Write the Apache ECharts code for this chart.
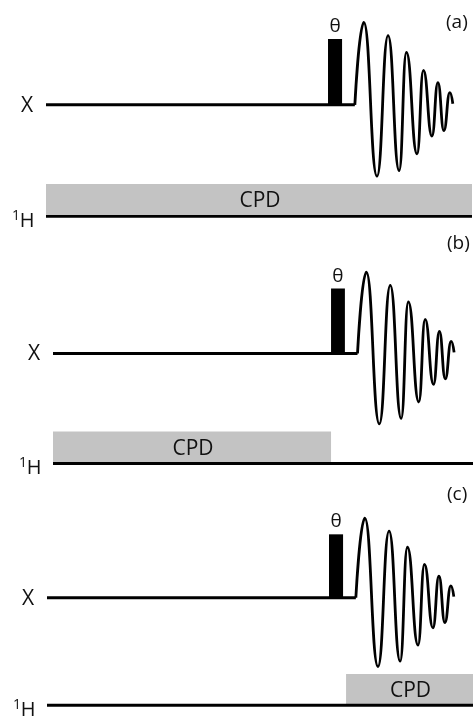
<!DOCTYPE html>
<html>
<head>
<meta charset="utf-8">
<script src="https://cdn.jsdelivr.net/npm/echarts@6/dist/echarts.min.js"></script>
<style>
html,body{margin:0;padding:0;background:#fff;}
#chart{width:473px;height:716px;}
</style>
</head>
<body>
<div id="chart"></div>
<script>
// ---- data (time in arbitrary units along the sequence, amplitude in arbitrary units) ----
var panelNames = ['(a)', '(b)', '(c)'];
var channelNames = ['X', 'H'];          // X channel and 1H channel
var channelLevels = [0, -10];           // baseline level of each channel
var seqStart = 0;
var seqEnd = 100;
var pulseStart = 66.2;
var pulseEnd = 69.5;
var pulseHeight = 5.9;
var pulseLabel = 'θ';
var fidStart = 72.5;
var fidTimes = [74.6, 77.7, 80.3, 82.9, 84.6, 87.1, 88.6, 90.6, 92.0, 93.4, 94.8, 95.5];
var fidAmps  = [7.4, -6.4, 6.2, -5.9, 4.7, -4.4, 3.1, -2.8, 2.0, -2.3, 1.1, 0.1];
var cpdLabel = 'CPD';
var cpdStarts = [0, 0, 70.2];
var cpdEnds   = [100, 66.2, 100];
var cpdHeight = 2.9;

// ---- layout (pixels) ----
var panelLayout = [
  {left: 46, top: 4.5, scale: 11.15},
  {left: 53, top: 254.5, scale: 11.0},
  {left: 47, top: 501, scale: 10.9}
];
var panelLabelPos = [[459, 26], [460, 247], [460, 498]];
var yMin = -11, yMax = 9;
var FONT = '"Open Sans", sans-serif';
var INK = '#111';

var grids = [], xAxes = [], yAxes = [], series = [], graphics = [];

panelLayout.forEach(function (p, i) {
  grids.push({left: p.left, width: 426, top: p.top, height: (yMax - yMin) * p.scale});
  xAxes.push({type: 'value', gridIndex: i, min: seqStart, max: seqEnd, show: false});
  yAxes.push({type: 'value', gridIndex: i, min: yMin, max: yMax, show: false});

  // CPD block on 1H channel
  series.push({
    type: 'custom', xAxisIndex: i, yAxisIndex: i, z: 1,
    data: [[cpdStarts[i], cpdEnds[i], channelLevels[1], channelLevels[1] + cpdHeight]],
    renderItem: function (params, api) {
      var a = api.coord([api.value(0), api.value(3)]);
      var b = api.coord([api.value(1), api.value(2)]);
      return {
        type: 'group',
        children: [
          {type: 'rect', shape: {x: a[0], y: a[1], width: b[0] - a[0], height: b[1] - a[1]},
           style: {fill: '#c3c3c3'}},
          {type: 'text', style: {text: cpdLabel, x: (a[0] + b[0]) / 2 + 1, y: (a[1] + b[1]) / 2 + 1,
           align: 'center', verticalAlign: 'middle', font: '21px ' + FONT, fill: INK}}
        ]
      };
    }
  });

  // X channel baseline
  series.push({
    type: 'line', xAxisIndex: i, yAxisIndex: i, z: 3, symbol: 'none',
    lineStyle: {color: '#000', width: 3}, silent: true,
    data: [[seqStart, channelLevels[0]], [fidStart, channelLevels[0]]]
  });

  // FID
  var fid = [[fidStart, channelLevels[0]]];
  fidTimes.forEach(function (t, k) { fid.push([t, channelLevels[0] + fidAmps[k]]); });
  series.push({
    type: 'line', xAxisIndex: i, yAxisIndex: i, z: 3, symbol: 'none',
    smooth: 0.5, smoothMonotone: 'x',
    lineStyle: {color: '#000', width: 2.8}, silent: true,
    data: fid
  });

  // 1H channel baseline
  series.push({
    type: 'line', xAxisIndex: i, yAxisIndex: i, z: 3, symbol: 'none',
    lineStyle: {color: '#000', width: 2.8}, silent: true,
    data: [[seqStart, channelLevels[1]], [seqEnd, channelLevels[1]]]
  });

  // pulse
  series.push({
    type: 'custom', xAxisIndex: i, yAxisIndex: i, z: 4,
    data: [[pulseStart, pulseEnd, channelLevels[0], channelLevels[0] + pulseHeight]],
    renderItem: function (params, api) {
      var a = api.coord([api.value(0), api.value(3)]);
      var b = api.coord([api.value(1), api.value(2)]);
      return {
        type: 'group',
        children: [
          {type: 'rect', shape: {x: a[0], y: a[1], width: b[0] - a[0], height: b[1] - a[1]},
           style: {fill: '#000'}},
          {type: 'text', style: {text: pulseLabel, x: (a[0] + b[0]) / 2, y: a[1] - 3,
           align: 'center', verticalAlign: 'bottom', font: '19px ' + FONT, fill: INK}}
        ]
      };
    }
  });

  // channel labels
  series.push({
    type: 'custom', xAxisIndex: i, yAxisIndex: i, z: 5,
    data: [[seqStart, channelLevels[0], 0], [seqStart, channelLevels[1], 1]],
    renderItem: function (params, api) {
      var c = api.coord([api.value(0), api.value(1)]);
      var idx = api.value(2);
      if (idx === 0) {
        return {type: 'text', style: {text: channelNames[0], x: c[0] - 19, y: c[1] + 1,
          align: 'center', verticalAlign: 'middle', font: '21px ' + FONT, fill: INK}};
      }
      return {
        type: 'group',
        children: [
          {type: 'text', style: {text: '1', x: c[0] - 30, y: c[1] + 7, align: 'center',
            verticalAlign: 'bottom', font: '14px ' + FONT, fill: INK}},
          {type: 'text', style: {text: channelNames[1], x: c[0] - 19, y: c[1] + 15, align: 'center',
            verticalAlign: 'bottom', font: '20px ' + FONT, fill: INK}}
        ]
      };
    }
  });

  graphics.push({type: 'text', left: panelLabelPos[i][0] - 13, top: panelLabelPos[i][1] - 13,
    style: {text: panelNames[i], font: '19px ' + FONT, fill: INK}});
});

var chart = echarts.init(document.getElementById('chart'), null, {renderer: 'canvas'});
chart.setOption({
  animation: false,
  backgroundColor: '#fff',
  grid: grids,
  xAxis: xAxes,
  yAxis: yAxes,
  series: series,
  graphic: graphics
});
</script>
</body>
</html>
